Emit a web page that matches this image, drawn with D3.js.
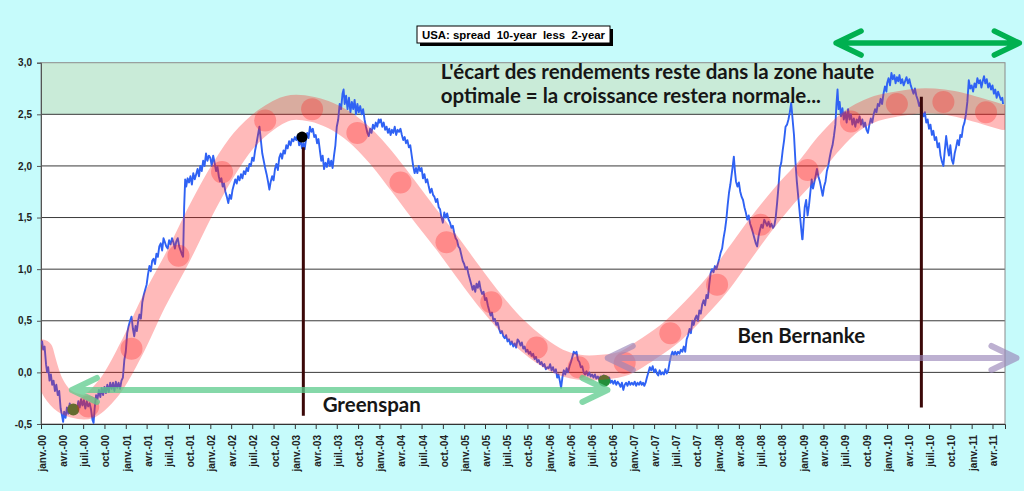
<!DOCTYPE html>
<html>
<head>
<meta charset="utf-8">
<script src="https://cdn.jsdelivr.net/npm/d3@7"></script>
<style>
  body { margin: 0; background: #c6fbfb; }
</style>
</head>
<body>
<div id="viz"></div>
<script>

    // spread 10 ans - 2 ans, par annee : [mois dans l'annee, valeur]
    var spread2000 = [[0.0,0.27],[0.15,0.3],[0.3,0.22],[0.5,0.25],[0.7,0.08],[0.85,0.0],[1.0,0.05],[1.2,-0.08],[1.4,-0.02],[1.6,-0.12],[1.8,-0.08],[2.0,-0.18],[2.2,-0.12],[2.4,-0.22],[2.6,-0.18],[2.8,-0.35],[3.0,-0.42],[3.15,-0.48],[3.3,-0.38],[3.5,-0.44],[3.7,-0.34],[3.9,-0.4],[4.1,-0.3],[4.3,-0.38],[4.5,-0.33],[4.7,-0.4],[4.9,-0.32],[5.1,-0.37],[5.3,-0.28],[5.5,-0.34],[5.7,-0.26],[5.9,-0.32],[6.1,-0.27],[6.3,-0.35],[6.5,-0.28],[6.7,-0.33],[6.9,-0.3],[7.1,-0.36],[7.3,-0.46],[7.45,-0.49],[7.6,-0.35],[7.8,-0.22],[8.0,-0.26],[8.2,-0.17],[8.4,-0.24],[8.6,-0.15],[8.8,-0.22],[9.0,-0.14],[9.2,-0.2],[9.4,-0.12],[9.6,-0.19],[9.8,-0.1],[10.0,-0.16],[10.2,-0.1],[10.4,-0.18],[10.6,-0.09],[10.8,-0.15],[11.0,-0.1],[11.2,-0.16],[11.4,-0.08],[11.6,-0.05],[11.8,0.12]];
    var spread2001 = [[0.0,0.2],[0.2,0.38],[0.4,0.45],[0.6,0.5],[0.8,0.54],[1.0,0.42],[1.2,0.35],[1.4,0.45],[1.6,0.4],[1.8,0.5],[2.0,0.56],[2.2,0.52],[2.4,0.68],[2.6,0.75],[2.8,0.8],[3.0,0.85],[3.2,0.95],[3.4,1.03],[3.6,0.98],[3.8,1.08],[4.0,1.1],[4.2,1.05],[4.4,1.15],[4.6,1.12],[4.8,1.22],[5.0,1.25],[5.2,1.18],[5.4,1.3],[5.6,1.26],[5.8,1.22],[6.0,1.2],[6.2,1.28],[6.4,1.24],[6.6,1.3],[6.8,1.26],[7.0,1.2],[7.2,1.27],[7.4,1.3],[7.6,1.22],[7.8,1.18],[8.0,1.14],[8.15,1.12],[8.3,1.6],[8.45,1.87],[8.6,1.8],[8.8,1.88],[9.0,1.84],[9.2,1.9],[9.4,1.82],[9.6,1.93],[9.8,1.87],[10.0,1.92],[10.2,1.97],[10.4,1.9],[10.6,2.0],[10.8,1.95],[11.0,2.05],[11.2,2.0],[11.4,2.12],[11.6,2.05],[11.8,2.1]];
    var spread2002 = [[0.0,2.08],[0.2,2.0],[0.4,2.1],[0.6,2.03],[0.8,1.95],[1.0,1.99],[1.2,1.9],[1.4,1.85],[1.6,1.88],[1.8,1.8],[2.0,1.83],[2.2,1.75],[2.4,1.7],[2.6,1.64],[2.8,1.72],[3.0,1.68],[3.2,1.77],[3.4,1.82],[3.6,1.87],[3.8,1.83],[4.0,1.9],[4.2,1.86],[4.4,1.92],[4.6,1.88],[4.8,1.95],[5.0,1.92],[5.2,1.98],[5.4,1.95],[5.6,2.02],[5.8,2.0],[6.0,2.08],[6.2,2.05],[6.4,2.15],[6.6,2.22],[6.8,2.3],[7.0,2.38],[7.2,2.25],[7.4,2.12],[7.6,2.05],[7.8,1.98],[8.0,1.92],[8.2,1.85],[8.4,1.77],[8.6,1.85],[8.8,1.9],[9.0,1.86],[9.2,1.97],[9.4,2.02],[9.6,1.96],[9.8,2.08],[10.0,2.12],[10.2,2.07],[10.4,2.15],[10.6,2.12],[10.8,2.2],[11.0,2.17],[11.2,2.24],[11.4,2.2],[11.6,2.26],[11.8,2.24]];
    var spread2003 = [[0.0,2.28],[0.2,2.25],[0.4,2.3],[0.6,2.2],[0.8,2.25],[1.0,2.17],[1.2,2.22],[1.4,2.16],[1.6,2.25],[1.8,2.32],[2.0,2.27],[2.2,2.38],[2.4,2.33],[2.6,2.36],[2.8,2.28],[3.0,2.3],[3.2,2.22],[3.4,2.26],[3.6,2.15],[3.8,2.05],[4.0,2.1],[4.2,1.97],[4.4,2.03],[4.6,1.99],[4.8,2.07],[5.0,2.0],[5.2,2.05],[5.4,1.98],[5.6,2.1],[5.8,2.2],[6.0,2.38],[6.2,2.45],[6.4,2.6],[6.6,2.55],[6.8,2.7],[6.95,2.74],[7.1,2.6],[7.3,2.68],[7.5,2.55],[7.7,2.66],[7.9,2.52],[8.1,2.62],[8.3,2.55],[8.5,2.64],[8.7,2.5],[8.9,2.6],[9.1,2.52],[9.3,2.58],[9.5,2.5],[9.7,2.55],[9.9,2.45],[10.1,2.38],[10.3,2.32],[10.5,2.29],[10.7,2.36],[10.9,2.32],[11.1,2.4],[11.3,2.36],[11.5,2.42],[11.7,2.38],[11.9,2.45]];
    var spread2004 = [[0.0,2.42],[0.2,2.45],[0.4,2.38],[0.6,2.42],[0.8,2.35],[1.0,2.38],[1.2,2.32],[1.4,2.36],[1.6,2.3],[1.8,2.35],[2.0,2.32],[2.2,2.38],[2.4,2.3],[2.6,2.35],[2.8,2.33],[3.0,2.36],[3.2,2.3],[3.4,2.25],[3.6,2.28],[3.8,2.22],[4.0,2.25],[4.2,2.18],[4.4,2.2],[4.6,2.1],[4.8,2.0],[5.0,1.93],[5.2,1.98],[5.4,1.93],[5.6,2.0],[5.8,1.95],[6.0,1.98],[6.2,1.88],[6.4,1.92],[6.6,1.84],[6.8,1.87],[7.0,1.8],[7.2,1.74],[7.4,1.78],[7.6,1.72],[7.8,1.7],[8.0,1.65],[8.2,1.68],[8.4,1.6],[8.6,1.58],[8.8,1.5],[9.0,1.45],[9.2,1.55],[9.4,1.5],[9.6,1.54],[9.8,1.48],[10.0,1.45],[10.2,1.4],[10.4,1.42],[10.6,1.35],[10.8,1.3],[11.0,1.28],[11.2,1.22],[11.4,1.2],[11.6,1.14],[11.8,1.08]];
    var spread2005 = [[0.0,1.05],[0.2,1.0],[0.4,1.02],[0.6,0.95],[0.8,0.9],[1.0,0.85],[1.2,0.8],[1.4,0.84],[1.6,0.78],[1.8,0.86],[2.0,0.82],[2.2,0.88],[2.4,0.8],[2.6,0.76],[2.8,0.78],[3.0,0.7],[3.2,0.72],[3.4,0.65],[3.6,0.6],[3.8,0.55],[4.0,0.58],[4.2,0.5],[4.4,0.52],[4.6,0.46],[4.8,0.48],[5.0,0.42],[5.2,0.38],[5.4,0.4],[5.6,0.35],[5.8,0.33],[6.0,0.36],[6.2,0.3],[6.4,0.32],[6.6,0.27],[6.8,0.3],[7.0,0.25],[7.2,0.28],[7.4,0.24],[7.6,0.32],[7.8,0.3],[8.0,0.26],[8.2,0.29],[8.4,0.23],[8.6,0.25],[8.8,0.2],[9.0,0.22],[9.2,0.18],[9.4,0.2],[9.6,0.16],[9.8,0.18],[10.0,0.13],[10.2,0.15],[10.4,0.1],[10.6,0.12],[10.8,0.08],[11.0,0.1],[11.2,0.06],[11.4,0.08],[11.6,0.03],[11.8,0.05]];
    var spread2006 = [[0.0,0.04],[0.2,0.08],[0.4,0.02],[0.6,0.05],[0.8,0.0],[1.0,0.03],[1.2,-0.05],[1.4,-0.02],[1.6,-0.08],[1.8,-0.15],[2.0,-0.05],[2.2,0.02],[2.4,-0.02],[2.6,0.04],[2.8,0.0],[3.0,0.06],[3.2,0.1],[3.4,0.15],[3.6,0.2],[3.8,0.18],[4.0,0.2],[4.2,0.12],[4.4,0.1],[4.6,0.05],[4.8,0.06],[5.0,0.0],[5.2,-0.02],[5.4,0.01],[5.6,-0.03],[5.8,0.0],[6.0,-0.04],[6.2,-0.02],[6.4,-0.05],[6.6,-0.02],[6.8,-0.06],[7.0,-0.04],[7.2,-0.07],[7.4,-0.04],[7.6,-0.06],[7.8,-0.03],[8.0,-0.07],[8.2,-0.05],[8.4,-0.08],[8.6,-0.05],[8.8,-0.1],[9.0,-0.08],[9.2,-0.11],[9.4,-0.08],[9.6,-0.12],[9.8,-0.09],[10.0,-0.11],[10.2,-0.14],[10.4,-0.1],[10.6,-0.17],[10.8,-0.12],[11.0,-0.1],[11.2,-0.13],[11.4,-0.09],[11.6,-0.12],[11.8,-0.1]];
    var spread2007 = [[0.0,-0.12],[0.2,-0.09],[0.4,-0.13],[0.6,-0.1],[0.8,-0.12],[1.0,-0.09],[1.2,-0.12],[1.4,-0.1],[1.6,-0.13],[1.8,-0.1],[2.0,-0.05],[2.2,0.0],[2.4,0.05],[2.6,0.02],[2.8,0.06],[3.0,0.0],[3.2,0.03],[3.4,-0.01],[3.6,-0.03],[3.8,0.02],[4.0,-0.02],[4.2,0.0],[4.4,-0.02],[4.6,0.03],[4.8,-0.01],[5.0,0.02],[5.2,0.1],[5.4,0.16],[5.6,0.2],[5.8,0.17],[6.0,0.2],[6.2,0.17],[6.4,0.2],[6.6,0.18],[6.8,0.22],[7.0,0.2],[7.2,0.25],[7.4,0.2],[7.6,0.32],[7.8,0.36],[8.0,0.42],[8.2,0.38],[8.4,0.5],[8.6,0.46],[8.8,0.52],[9.0,0.55],[9.2,0.5],[9.4,0.6],[9.6,0.57],[9.8,0.66],[10.0,0.7],[10.2,0.65],[10.4,0.75],[10.6,0.72],[10.8,0.85],[11.0,0.96],[11.2,1.0],[11.4,0.97],[11.6,1.03],[11.8,1.0]];
    var spread2008 = [[0.0,1.05],[0.2,1.1],[0.4,1.16],[0.6,1.2],[0.8,1.3],[1.0,1.38],[1.2,1.48],[1.4,1.62],[1.6,1.74],[1.8,1.82],[2.0,1.92],[2.15,2.0],[2.3,2.09],[2.45,1.95],[2.6,1.85],[2.8,1.8],[3.0,1.84],[3.2,1.75],[3.4,1.7],[3.6,1.67],[3.8,1.6],[4.0,1.55],[4.2,1.48],[4.4,1.52],[4.6,1.44],[4.8,1.4],[5.0,1.35],[5.2,1.3],[5.4,1.25],[5.6,1.22],[5.8,1.32],[6.0,1.38],[6.2,1.43],[6.4,1.4],[6.6,1.48],[6.8,1.45],[7.0,1.42],[7.2,1.46],[7.4,1.41],[7.6,1.44],[7.8,1.4],[8.0,1.42],[8.2,1.5],[8.4,1.64],[8.6,1.8],[8.8,1.98],[9.0,2.03],[9.2,2.15],[9.4,2.25],[9.6,2.38],[9.8,2.4],[10.0,2.45],[10.2,2.52],[10.4,2.61],[10.6,2.45],[10.8,2.3],[11.0,2.05],[11.2,1.85],[11.4,1.7],[11.6,1.55],[11.8,1.4],[11.95,1.29]];
    var spread2009 = [[0.0,1.29],[0.15,1.45],[0.3,1.6],[0.5,1.67],[0.7,1.52],[0.9,1.62],[1.1,1.75],[1.3,1.87],[1.5,1.78],[1.7,1.84],[1.9,1.9],[2.1,1.97],[2.3,1.9],[2.5,1.85],[2.7,1.78],[2.9,1.71],[3.1,1.8],[3.3,1.85],[3.5,1.95],[3.7,2.0],[3.9,2.08],[4.1,2.15],[4.3,2.2],[4.5,2.29],[4.7,2.4],[4.85,2.6],[5.0,2.74],[5.15,2.55],[5.3,2.62],[5.5,2.48],[5.7,2.56],[5.9,2.45],[6.1,2.52],[6.3,2.42],[6.5,2.55],[6.7,2.45],[6.9,2.5],[7.1,2.4],[7.3,2.46],[7.5,2.38],[7.7,2.45],[7.9,2.42],[8.1,2.48],[8.3,2.4],[8.5,2.45],[8.7,2.38],[8.9,2.42],[9.1,2.35],[9.3,2.32],[9.5,2.4],[9.7,2.46],[9.9,2.42],[10.1,2.5],[10.3,2.55],[10.5,2.52],[10.7,2.6],[10.9,2.58],[11.1,2.65],[11.3,2.6],[11.5,2.7],[11.7,2.77],[11.9,2.72]];
    var spread2010 = [[0.0,2.8],[0.2,2.85],[0.4,2.78],[0.6,2.9],[0.8,2.84],[1.0,2.88],[1.2,2.8],[1.4,2.86],[1.6,2.82],[1.8,2.88],[2.0,2.8],[2.2,2.84],[2.4,2.78],[2.6,2.82],[2.8,2.86],[3.0,2.8],[3.2,2.84],[3.4,2.78],[3.6,2.74],[3.8,2.7],[4.0,2.75],[4.2,2.68],[4.4,2.64],[4.6,2.58],[4.8,2.62],[5.0,2.52],[5.2,2.48],[5.4,2.52],[5.6,2.42],[5.8,2.45],[6.0,2.36],[6.2,2.4],[6.4,2.3],[6.6,2.34],[6.8,2.25],[7.0,2.28],[7.2,2.18],[7.4,2.22],[7.6,2.1],[7.8,2.04],[8.0,2.0],[8.2,2.15],[8.4,2.29],[8.6,2.18],[8.8,2.1],[9.0,2.2],[9.2,2.06],[9.4,2.02],[9.6,2.12],[9.8,2.18],[10.0,2.25],[10.2,2.2],[10.4,2.3],[10.6,2.28],[10.8,2.38],[11.0,2.42],[11.2,2.5],[11.4,2.62],[11.6,2.83],[11.8,2.75]];
    var spread2011 = [[0.0,2.78],[0.2,2.72],[0.4,2.8],[0.6,2.76],[0.8,2.85],[1.0,2.8],[1.2,2.83],[1.4,2.76],[1.6,2.82],[1.8,2.87],[2.0,2.8],[2.2,2.84],[2.4,2.76],[2.6,2.8],[2.8,2.74],[3.0,2.78],[3.2,2.7],[3.4,2.74],[3.6,2.66],[3.8,2.72],[4.0,2.68],[4.2,2.64],[4.4,2.66],[4.5,2.6]];

    var spreadYears = [2000, 2001, 2002, 2003, 2004, 2005, 2006, 2007, 2008, 2009, 2010, 2011];
    var spreadByYear = [spread2000, spread2001, spread2002, spread2003, spread2004, spread2005,
                        spread2006, spread2007, spread2008, spread2009, spread2010, spread2011];

    // tendance (bande rouge), en mois depuis janv. 2000
    var trendMonths = [0, 1.5, 3, 4.7, 6.7, 9.7, 12.8, 16, 19.5, 22.6, 25.7, 28.7, 31.8, 35.1, 38.5, 41.7, 44.9, 48, 51, 54.2, 57.5, 60.7, 63.9, 67.1, 70.3, 73.3, 76.3, 79.6, 82.8, 86, 89.3, 92.6, 95.9, 99, 102.1, 105.4, 108.7, 111.8, 114.9, 118.2, 121.4, 124.7, 128, 131, 134.1, 136.5];
    var trendValues = [0.2, -0.12, -0.26, -0.32, -0.33, -0.14, 0.23, 0.68, 1.13, 1.56, 1.94, 2.24, 2.44, 2.56, 2.55, 2.47, 2.32, 2.1, 1.84, 1.55, 1.26, 0.96, 0.68, 0.43, 0.24, 0.11, 0.05, 0.05, 0.09, 0.22, 0.38, 0.6, 0.85, 1.14, 1.43, 1.71, 1.96, 2.22, 2.43, 2.55, 2.6, 2.63, 2.62, 2.58, 2.52, 2.47];

    var circleMonths = [6.7, 12.8, 19.5, 25.7, 31.8, 38.5, 44.9, 51, 57.5, 63.9, 70.3, 76.3, 82.8, 89.3, 95.9, 102.1, 108.7, 114.9, 121.4, 128, 134.1];
    var circleValues = [-0.33, 0.23, 1.13, 1.94, 2.44, 2.55, 2.32, 1.84, 1.26, 0.68, 0.24, 0.05, 0.09, 0.38, 0.85, 1.43, 1.96, 2.43, 2.6, 2.62, 2.52];

    var greenDotMonths = [4.6, 79.9];
    var greenDotValues = [-0.36, -0.08];
    var blackDot = [37.0, 2.28];

    // traits verticaux : mois, haut, bas
    var leaderMonths = [37.2, 124.9];
    var leaderTops = [2.18, 2.67];
    var leaderBottoms = [-0.42, -0.34];

    // fleches : mois debut, mois fin, valeur
    var arrowGreenspan = [4.4, 80.35, -0.17];
    var arrowBernanke = [80.4, 138.4, 0.14];
    var arrowTop = [112.8, 138.8, 3.19];

    var zoneBand = [2.5, 3.0];
    var yTicks = [-0.5, 0, 0.5, 1, 1.5, 2, 2.5, 3];
    var monthNames = ["janv.", "févr.", "mars", "avr.", "mai", "juin", "juil.", "août", "sept.", "oct.", "nov.", "déc."];

    var titleText = "USA: spread  10-year  less  2-year";
    var noteLines = ["L'écart des rendements reste dans la zone haute", "optimale = la croissance restera normale..."];

    //Width and height
    var width = 1024;
    var height = 491;
    var margin = { top: 62.7, left: 41, right: 19, bottom: 67 };
    var innerWidth = width - margin.left - margin.right;
    var innerHeight = height - margin.top - margin.bottom;

    function monthDate(m) {
        var whole = Math.floor(m);
        var start = new Date(2000, whole, 1);
        var next = new Date(2000, whole + 1, 1);
        return new Date(+start + (m - whole) * (next - start));
    }

    var spread = [];
    spreadByYear.forEach(function(rows, i) {
        var offset = (spreadYears[i] - 2000) * 12;
        rows.forEach(function(r) { spread.push({ date: monthDate(offset + r[0]), value: r[1] }); });
    });

    var svg = d3.select("#viz")
                .append("svg")
                .attr("width", width)
                .attr("height", height)
                .style("display", "block");

    svg.append("rect").attr("width", width).attr("height", height).attr("fill", "#c6fbfb");

    var g = svg.append("g")
        .attr("transform", "translate(" + margin.left + "," + margin.top + ")");

    var xScale = d3.scaleTime()
        .domain([new Date(2000, 0, 1), new Date(2011, 4, 25)])
        .range([0, innerWidth]);

    var yScale = d3.scaleLinear()
        .domain([-0.5, 3])
        .range([innerHeight, 0]);

    var xm = function(m) { return xScale(monthDate(m)); };

    g.append("clipPath").attr("id", "plotClip")
        .append("rect").attr("width", innerWidth).attr("height", innerHeight);

    // fond blanc + zone optimale
    g.append("rect").attr("width", innerWidth).attr("height", innerHeight).attr("fill", "#ffffff");
    g.append("rect")
        .attr("x", 0).attr("width", innerWidth)
        .attr("y", yScale(zoneBand[1]))
        .attr("height", yScale(zoneBand[0]) - yScale(zoneBand[1]))
        .attr("fill", "#c9ebd8");

    // grille
    g.selectAll(".grid")
        .data(yTicks.filter(function(d) { return d > -0.5 && d < 3; }))
        .enter().append("line")
        .attr("class", "grid")
        .attr("x1", 0).attr("x2", innerWidth)
        .attr("y1", function(d) { return yScale(d); })
        .attr("y2", function(d) { return yScale(d); })
        .attr("stroke", "#3a3a3a").attr("stroke-width", 1);

    g.append("rect").attr("width", innerWidth).attr("height", innerHeight)
        .attr("fill", "none").attr("stroke", "#8a8a8a").attr("stroke-width", 1);

    // axes
    var yAxis = d3.axisLeft(yScale)
        .tickValues(yTicks)
        .tickSize(4)
        .tickPadding(5)
        .tickFormat(function(d) { return (d < 0 ? "-" : "") + Math.abs(d).toFixed(1).replace(".", ","); });

    var yAxisG = g.append("g").attr("class", "y-axis").call(yAxis);
    yAxisG.select(".domain").attr("stroke", "#555");
    yAxisG.selectAll(".tick line").attr("stroke", "#555");
    yAxisG.selectAll("text")
        .style("font-family", "'Liberation Sans', Arial, sans-serif")
        .style("font-weight", "bold").style("font-size", "10px").attr("fill", "#222");

    var xTicks = d3.timeMonth.every(3).range(new Date(2000, 0, 1), new Date(2011, 4, 2));
    var tickLabel = function(d) { return monthNames[d.getMonth()] + "-" + String(d.getFullYear()).slice(2); };
    var xAxis = d3.axisBottom(xScale)
        .tickValues(xTicks)
        .tickSize(5)
        .tickFormat("");

    var xAxisG = g.append("g").attr("class", "x-axis")
        .attr("transform", "translate(0," + innerHeight + ")")
        .call(xAxis);
    xAxisG.select(".domain").attr("stroke", "#333");
    xAxisG.selectAll(".tick line").attr("stroke", "#333");
    xAxisG.selectAll(".tick text").remove();

    // etiquettes verticales
    xAxisG.selectAll(".xlab")
        .data(xTicks)
        .enter().append("text")
        .attr("class", "xlab")
        .attr("transform", function(d) { return "translate(" + (xScale(d) + 1.5) + ",11) rotate(-90)"; })
        .attr("text-anchor", "end")
        .attr("dy", "0.35em")
        .style("font-family", "'Liberation Sans', Arial, sans-serif")
        .style("font-weight", "bold").style("font-size", "10px").attr("fill", "#222")
        .text(tickLabel);

    var plot = g.append("g").attr("clip-path", "url(#plotClip)");

    // serie bleue
    var line = d3.line()
        .x(function(d) { return xScale(d.date); })
        .y(function(d) { return yScale(d.value); });

    plot.append("path")
        .datum(spread)
        .attr("d", line)
        .attr("fill", "none")
        .attr("stroke", "#2f62f4")
        .attr("stroke-width", 1.9)
        .attr("stroke-linejoin", "round");

    // points verts
    plot.selectAll(".gdot")
        .data(greenDotMonths)
        .enter().append("circle")
        .attr("class", "gdot")
        .attr("cx", function(d) { return xm(d); })
        .attr("cy", function(d, i) { return yScale(greenDotValues[i]); })
        .attr("r", 6)
        .attr("fill", "#23903a");

    // bande de tendance
    var trendLine = d3.line()
        .x(function(d, i) { return xm(d); })
        .y(function(d, i) { return yScale(trendValues[i]); })
        .curve(d3.curveCatmullRom.alpha(0.5));

    plot.append("path")
        .datum(trendMonths)
        .attr("d", trendLine)
        .attr("fill", "none")
        .attr("stroke", "#ff1a1a")
        .attr("stroke-opacity", 0.3)
        .attr("stroke-width", 25)
        .attr("stroke-linecap", "round");

    plot.selectAll(".rdot")
        .data(circleMonths)
        .enter().append("circle")
        .attr("class", "rdot")
        .attr("cx", function(d) { return xm(d); })
        .attr("cy", function(d, i) { return yScale(circleValues[i]); })
        .attr("r", 11)
        .attr("fill", "#ff1a1a")
        .attr("fill-opacity", 0.3);

    // traits verticaux
    g.selectAll(".leader")
        .data(leaderMonths)
        .enter().append("line")
        .attr("class", "leader")
        .attr("x1", function(d) { return xm(d); })
        .attr("x2", function(d) { return xm(d); })
        .attr("y1", function(d, i) { return yScale(leaderTops[i]); })
        .attr("y2", function(d, i) { return yScale(leaderBottoms[i]); })
        .attr("stroke", "#3b0808")
        .attr("stroke-width", 3);

    g.append("circle")
        .attr("cx", xm(blackDot[0]))
        .attr("cy", yScale(blackDot[1]))
        .attr("r", 5.5)
        .attr("fill", "#000");

    // fleches doubles
    function doubleArrow(spec, color, opacity, w) {
        var x1 = xm(spec[0]), x2 = xm(spec[1]), yy = yScale(spec[2]);
        var dx = 25, dy = 12;
        var p = d3.path();
        p.moveTo(x1 + dx, yy - dy); p.lineTo(x1, yy); p.lineTo(x1 + dx, yy + dy);
        p.moveTo(x1, yy); p.lineTo(x2, yy);
        p.moveTo(x2 - dx, yy - dy); p.lineTo(x2, yy); p.lineTo(x2 - dx, yy + dy);
        g.append("path")
            .attr("d", p.toString())
            .attr("fill", "none")
            .attr("stroke", color)
            .attr("stroke-width", w)
            .attr("stroke-linecap", "round")
            .attr("stroke-linejoin", "round")
            .attr("opacity", opacity);
    }

    doubleArrow(arrowGreenspan, "#5ccb8c", 0.75, 6);
    doubleArrow(arrowBernanke, "#9a86b8", 0.65, 6);
    doubleArrow(arrowTop, "#00b050", 1, 5.5);

    // textes
    var noteFont = "Lato, 'Open Sans', sans-serif";

    g.selectAll(".note")
        .data(noteLines)
        .enter().append("text")
        .attr("class", "note")
        .attr("x", xm(56.7))
        .attr("y", function(d, i) { return yScale(i === 0 ? 2.84 : 2.61); })
        .style("font-family", noteFont)
        .style("font-weight", "bold")
        .style("font-size", "20.5px")
        .attr("fill", "#161616")
        .text(function(d) { return d; });

    g.append("text")
        .attr("x", xm(40.0))
        .attr("y", yScale(-0.38))
        .style("font-family", noteFont)
        .style("font-weight", "bold")
        .style("font-size", "20.5px")
        .attr("fill", "#161616")
        .text("Greenspan");

    g.append("text")
        .attr("x", xm(98.8))
        .attr("y", yScale(0.285))
        .style("font-family", noteFont)
        .style("font-weight", "bold")
        .style("font-size", "20.5px")
        .attr("fill", "#161616")
        .text("Ben Bernanke");

    // titre
    var title = svg.append("g").attr("transform", "translate(417,26)");
    title.append("rect").attr("x", 3).attr("y", 3).attr("width", 193).attr("height", 17).attr("fill", "#000");
    title.append("rect").attr("x", 0).attr("y", 0).attr("width", 193).attr("height", 17)
        .attr("fill", "#fff").attr("stroke", "#000").attr("stroke-width", 1);
    title.append("text")
        .attr("x", 5).attr("y", 12.5)
        .attr("textLength", 183)
        .attr("lengthAdjust", "spacingAndGlyphs")
        .style("white-space", "pre")
        .style("font-family", "'Liberation Sans Narrow', 'Liberation Sans', Arial, sans-serif")
        .style("font-weight", "bold")
        .style("font-size", "11.5px")
        .attr("fill", "#000")
        .text(titleText);

</script>
</body>
</html>
